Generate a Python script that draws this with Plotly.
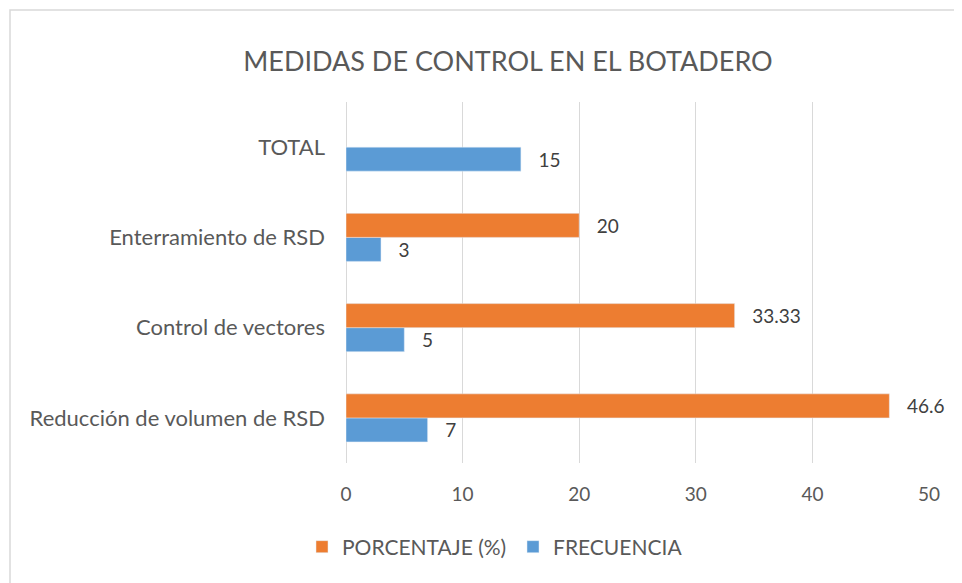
import plotly.graph_objects as go

categories = ["Reducción de volumen de RSD", "Control de vectores", "Enterramiento de RSD", "TOTAL"]
frecuencia = [7, 5, 3, 15]
porcentaje = [46.6, 33.33, 20, None]
x_ticks = [0, 10, 20, 30, 40, 50]

# page body has an 8px margin; work in screen coords and shift
OFF = 8
SW, SH = 962, 583
W, H = SW - OFF, SH - OFF
# plot area in screen coords
PX0, PX1, PY0, PY1 = 346, 929, 102, 463
L, T = PX0 - OFF, PY0 - OFF
R, B = W - (PX1 - OFF), H - (PY1 - OFF)
pw, ph = PX1 - PX0, PY1 - PY0

def px_x(sx):
    return (sx - PX0) / pw

def px_y(sy):
    return (PY1 - sy) / ph

FONT = "Lato"
LABEL = dict(family=FONT, size=19, color="#404040")
fig = go.Figure()
fig.add_trace(go.Bar(
    y=categories, x=frecuencia, orientation="h", name="FRECUENCIA",
    marker=dict(color="#5B9BD5"),
    text=frecuencia, texttemplate="\u00a0\u00a0\u00a0%{x}", textposition="outside",
    textfont=LABEL, cliponaxis=False, constraintext="none",
))
fig.add_trace(go.Bar(
    y=categories, x=porcentaje, orientation="h", name="PORCENTAJE (%)",
    marker=dict(color="#ED7D31"),
    text=porcentaje, texttemplate="\u00a0\u00a0\u00a0%{x}", textposition="outside",
    textfont=LABEL, cliponaxis=False, constraintext="none",
))

fig.update_layout(
    width=W, height=H,
    margin=dict(l=L, r=R, t=T, b=B, autoexpand=False),
    paper_bgcolor="white", plot_bgcolor="white",
    barmode="group", bargap=0.468, bargroupgap=0,
    font=dict(family=FONT, color="#595959", size=20),
    title=dict(text="MEDIDAS DE CONTROL EN EL BOTADERO",
               x=(508 - OFF) / W, xanchor="center", y=1 - (62 - OFF) / H, yanchor="middle",
               font=dict(family=FONT, size=27, color="#595959")),
    legend=dict(orientation="h", traceorder="reversed",
                x=px_x(513), xanchor="center",
                y=px_y(547), yanchor="middle",
                font=dict(family=FONT, size=21, color="#595959"),
                itemwidth=30, entrywidth=166, bgcolor="rgba(0,0,0,0)"),
    xaxis=dict(range=[0, 50], tickvals=x_ticks, showgrid=True, gridcolor="#D9D9D9", gridwidth=1,
               zeroline=True, zerolinecolor="#D9D9D9", zerolinewidth=1,
               showline=False, ticks="", ticklabelstandoff=18,
               tickfont=dict(family=FONT, size=19, color="#595959")),
    yaxis=dict(categoryorder="array", categoryarray=categories, showgrid=False,
               showline=False, ticks="", ticklabelstandoff=20,
               tickfont=dict(family=FONT, size=22, color="#595959")),
    shapes=[dict(type="rect", xref="paper", yref="paper",
                 x0=px_x(10), x1=px_x(SW + 60),
                 y0=px_y(SH + 60), y1=px_y(10),
                 line=dict(color="#D9D9D9", width=1.5), fillcolor="rgba(0,0,0,0)", layer="below")],
)

fig.write_html("out.html")
